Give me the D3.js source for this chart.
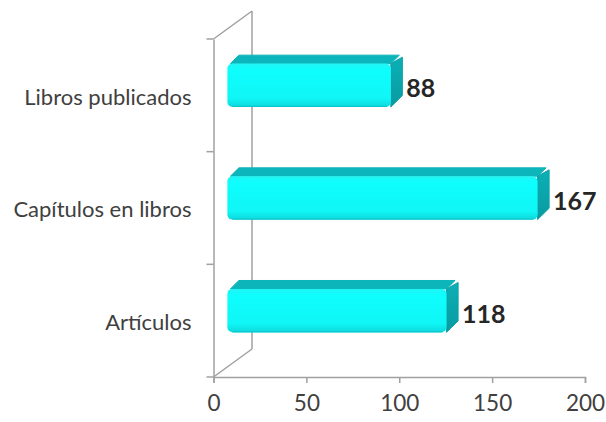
<!DOCTYPE html>
<html><head><meta charset="utf-8">
<script src="https://cdn.jsdelivr.net/npm/d3@7"></script>
<style>html,body{margin:0;padding:0;background:#fff;}svg{display:block;}</style>
</head><body>
<svg id="c" width="606" height="422"></svg>
<script>
const categories = ["Artículos", "Capítulos en libros", "Libros publicados"];
const values = [118, 167, 88];
const xTicks = [0, 50, 100, 150, 200];

const svg = d3.select("#c");
const front = {left: 213.5, right: 585, top: 39, bottom: 377};
const wall = {dx: 38.5, dy: -28};          // back wall offset
const d1 = 0.36, d2 = 0.66;                 // bar depth fractions

const x = d3.scaleLinear().domain([0, 200]).range([front.left, front.right]);
const y = d3.scaleBand().domain(categories.slice().reverse()).range([front.top, front.bottom]);

const axisColor = "#a0a0a0";
const g = svg.append("g");

// back wall vertical, diagonals
g.append("line").attr("x1", front.left + wall.dx).attr("x2", front.left + wall.dx)
  .attr("y1", front.top + wall.dy).attr("y2", front.bottom + wall.dy)
  .attr("stroke", axisColor).attr("stroke-width", 1.5);
g.append("line").attr("x1", front.left).attr("y1", front.top)
  .attr("x2", front.left + wall.dx).attr("y2", front.top + wall.dy)
  .attr("stroke", axisColor).attr("stroke-width", 1.5);
g.append("line").attr("x1", front.left).attr("y1", front.bottom)
  .attr("x2", front.left + wall.dx).attr("y2", front.bottom + wall.dy)
  .attr("stroke", axisColor).attr("stroke-width", 1.5);

// front axes
const xAxis = d3.axisBottom(x).tickValues(xTicks).tickSize(6).tickPadding(12);
const xg = g.append("g").attr("transform", `translate(0,${front.bottom})`).call(xAxis);
xg.select(".domain").attr("stroke", axisColor).attr("stroke-width", 1.5);
xg.selectAll(".tick line").attr("stroke", axisColor).attr("stroke-width", 1.5);
xg.selectAll(".tick text").attr("fill", "#404040").style("font-family", "Lato, 'Open Sans', sans-serif").style("font-size", "22.5px");

const yAxis = d3.axisLeft(y).tickSize(0).tickPadding(22);
const yg = g.append("g").attr("transform", `translate(${front.left},0)`).call(yAxis);
yg.select(".domain").attr("stroke", axisColor).attr("stroke-width", 1.5);
yg.selectAll(".tick text").attr("fill", "#404040").attr("dy", "0.42em")
  .style("font-family", "Lato, 'Open Sans', sans-serif").style("font-size", "22px");
// category boundary ticks
const bounds = [front.top].concat(y.domain().map(c => y(c) + y.bandwidth()));
g.selectAll("line.bt").data(bounds).enter().append("line").attr("class", "bt")
  .attr("x1", front.left - 7).attr("x2", front.left).attr("y1", d => d).attr("y2", d => d)
  .attr("stroke", axisColor).attr("stroke-width", 1.5);

// gradients
const defs = svg.append("defs");
const gr = defs.append("linearGradient").attr("id", "fg").attr("x1", 0).attr("x2", 0).attr("y1", 0).attr("y2", 1);
gr.append("stop").attr("offset", "0%").attr("stop-color", "#22f4f4");
gr.append("stop").attr("offset", "15%").attr("stop-color", "#0efefe");
gr.append("stop").attr("offset", "80%").attr("stop-color", "#10f6f6");
gr.append("stop").attr("offset", "100%").attr("stop-color", "#0ed8dc");
const gs = defs.append("linearGradient").attr("id", "sg").attr("x1", 0).attr("x2", 0).attr("y1", 0).attr("y2", 1);
gs.append("stop").attr("offset", "0%").attr("stop-color", "#0bb0b6");
gs.append("stop").attr("offset", "100%").attr("stop-color", "#099aa1");

const barH = y.bandwidth() * 0.385;
const o1 = {dx: wall.dx * d1, dy: wall.dy * d1};
const o2 = {dx: wall.dx * d2, dy: wall.dy * d2};

const data = categories.map((c, i) => ({c, v: values[i]}));
const bars = g.selectAll("g.bar").data(data).enter().append("g").attr("class", "bar");
bars.each(function(d) {
  const s = d3.select(this);
  const cy = y(d.c) + y.bandwidth() / 2 + o1.dy;
  const x0 = x(0) + o1.dx, x1 = x(d.v) + o1.dx;
  const t = cy - barH / 2, b = cy + barH / 2;
  const ddx = o2.dx - o1.dx, ddy = o2.dy - o1.dy;
  // top face
  s.append("path").attr("d",
    `M${x0 + 3},${t} L${x0 + ddx},${t + ddy} L${x1 + ddx - 3},${t + ddy} L${x1},${t} Z`)
    .attr("fill", "#0cb5ba").attr("stroke", "#0cb5ba").attr("stroke-width", 1).attr("stroke-linejoin", "round");
  // side face
  s.append("path").attr("d",
    `M${x1},${t} L${x1 + ddx},${t + ddy + 2} L${x1 + ddx},${b + ddy - 3} L${x1},${b} Z`)
    .attr("fill", "url(#sg)").attr("stroke", "#0aa2a8").attr("stroke-width", 1).attr("stroke-linejoin", "round");
  // front face
  s.append("rect").attr("x", x0).attr("y", t).attr("width", x1 - x0).attr("height", barH)
    .attr("rx", 5).attr("ry", 5).attr("fill", "url(#fg)");
  s.append("line").attr("x1", x0 + 5).attr("x2", x1 - 4).attr("y1", b - 0.5).attr("y2", b - 0.5)
    .attr("stroke", "#0bc9cd").attr("stroke-width", 1.2);
  // value label
  s.append("text").attr("x", x(d.v) + o2.dx + 4).attr("y", cy + 12)
    .attr("fill", "#262626").style("font-family", "Lato, 'Open Sans', sans-serif")
    .style("font-weight", "bold").style("font-size", "25px").text(d.v);
});
</script>
</body></html>
